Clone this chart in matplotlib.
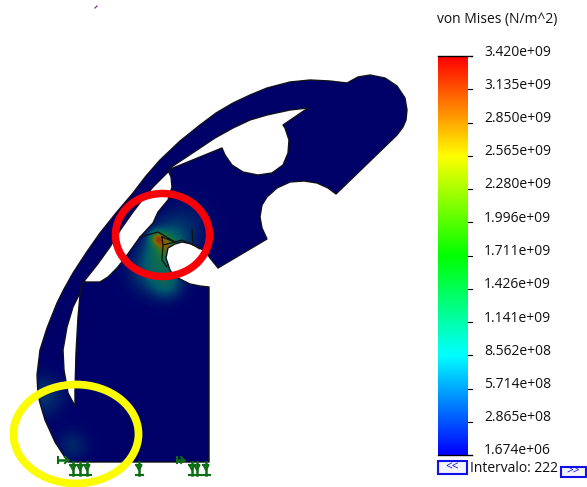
import numpy as np
import matplotlib
matplotlib.use('Agg')
import matplotlib.pyplot as plt
from matplotlib.colors import LinearSegmentedColormap
from matplotlib.patches import Ellipse, Polygon, Rectangle

plt.rcParams['font.family'] = ['Open Sans', 'DejaVu Sans']

# outline of the part, image pixels
part_x = [68, 209, 209, 200, 190, 180, 174, 170, 166, 168, 175, 182, 192, 200, 206, 210, 218, 267, 262, 260, 262,
          267, 277, 290, 304, 317, 328, 336, 397, 403, 406, 407, 405, 397, 385, 370, 358, 347, 330, 310, 290, 267,
          250, 233, 216, 200, 180, 160, 146, 133, 116, 100, 86, 73, 64, 57, 47, 40, 37, 38, 40, 45, 55]
part_y = [462, 462, 287, 286, 284, 279, 276, 270, 258, 248, 244, 242, 244, 248, 252, 258, 268, 239, 228, 217, 205,
          197, 188, 182, 181, 183, 188, 194, 135, 127, 120, 110, 98, 86, 78, 75, 77, 83, 81, 80, 82, 88,
          95, 103, 113, 125, 141, 160, 176, 193, 213, 233, 253, 273, 289, 303, 328, 350, 375, 395, 403, 420, 442]
# slot between the band and the body
slot_x = [308, 290, 267, 250, 233, 215, 200, 185, 170, 168, 153, 143, 133, 121, 110, 97, 85, 79, 73, 67, 63, 64, 68, 75,
          75, 76, 78, 80, 83, 100, 108, 117, 125, 140, 153, 158, 168, 172, 171, 168, 222, 225, 232, 243, 258,
          272, 283, 288, 289, 285, 283]
slot_y = [108, 110, 115, 120, 128, 138, 148, 158, 168, 172, 187, 199, 212, 229, 247, 265, 280, 295, 307, 327, 350, 370, 393, 406,
          390, 353, 317, 295, 282, 282, 277, 268, 258, 237, 223, 212, 200, 187, 177, 170, 148, 155, 165, 172, 175,
          173, 165, 153, 140, 128, 125]

# stress hot spots: x, y, strength, radius
spot_x = [157, 166, 168, 166, 148, 186, 43, 72, 160]
spot_y = [238, 244, 244, 282, 272, 222, 395, 445, 255]
spot_v = [0.52, 0.28, 0.26, 0.26, 0.16, 0.08, 0.14, 0.10, 0.20]
spot_r = [5, 7, 15, 11, 14, 16, 14, 11, 12]

# crack lines on the mesh
crack_lines = [
    ([140, 158, 175, 182, 193, 200], [237, 232, 242, 240, 245, 249]),
    ([162, 175, 163, 162], [237, 242, 245, 237]),
    ([163, 162, 167], [245, 260, 267]),
    ([192, 193], [229, 245]),
]

# colour bar
bar_ticks = ['3.420e+09', '3.135e+09', '2.850e+09', '2.565e+09', '2.280e+09', '1.996e+09', '1.711e+09',
             '1.426e+09', '1.141e+09', '8.562e+08', '5.714e+08', '2.865e+08', '1.674e+06']
bar_title = 'von Mises (N/m^2)'
interval_text = 'Intervalo: 222'

# supports under the part
support_x = [73, 80, 87, 139, 192, 197, 206]

fig = plt.figure(figsize=(5.87, 4.87), dpi=100)
ax = fig.add_axes([0, 0, 1, 1])
ax.set_xlim(0, 587)
ax.set_ylim(487, 0)
ax.axis('off')

# stress field clipped to the part
xx, yy = np.meshgrid(np.arange(0, 420), np.arange(60, 470))
field = np.zeros_like(xx, dtype=float)
for sx, sy, sv, sr in zip(spot_x, spot_y, spot_v, spot_r):
    field += sv * np.exp(-((xx - sx) ** 2 + (yy - sy) ** 2) / (2 * sr ** 2))
stress = LinearSegmentedColormap.from_list('stress', [
    (0.0, '#000069'), (0.25, '#005a6e'), (0.5, '#14783c'), (0.75, '#8c6400'), (1.0, '#9a1e0a')])
im = ax.imshow(field, cmap=stress, vmin=0, vmax=1, extent=(0, 420, 470, 60), aspect='auto',
               interpolation='bilinear', zorder=1)
part = Polygon(np.column_stack([part_x, part_y]), closed=True, fc='none', ec='#101020', lw=1, zorder=2,
               joinstyle='round')
ax.add_patch(part)
im.set_clip_path(part)
ax.add_patch(Polygon(np.column_stack([slot_x, slot_y]), closed=True, fc='white', ec='#101020', lw=1, zorder=2,
                     joinstyle='round'))
ax.set_xlim(0, 587)
ax.set_ylim(487, 0)

for cx, cy in crack_lines:
    ax.plot(cx, cy, color='#101010', lw=0.9, zorder=3)

# support symbols
green = '#0c6e14'
for x in support_x:
    ax.plot([x, x], [462, 475], color=green, lw=1.8, zorder=3)
    ax.plot([x - 3.5, x + 3.5], [475, 475], color=green, lw=1.5, zorder=3)
    ax.plot([x - 2.5, x + 2.5, x, x - 2.5], [465, 465, 470, 465], color=green, lw=1.5, zorder=3)
for x0, x1 in [(58, 68), (177, 184)]:
    ax.plot([x0, x1], [460, 460], color=green, lw=1.8, zorder=3)
    ax.plot([x0, x0], [457, 463], color=green, lw=1.5, zorder=3)
    ax.plot([x1 - 3, x1, x1 - 3], [457, 460, 463], color=green, lw=1.5, zorder=3)

ax.add_patch(Ellipse((162.5, 235), 94, 83, fc='none', ec='#f80008', lw=5.4, zorder=4))
ax.add_patch(Ellipse((76, 434), 125, 99, fc='none', ec='#fcfc00', lw=5.6, zorder=4))
ax.plot([95, 97], [8, 6], color='#8a2a9a', lw=0.9)

# colour bar
rainbow = LinearSegmentedColormap.from_list('rainbow5', ['#0000ff', '#00ffff', '#00ff00', '#ffff00', '#ff0000'])
ax.imshow(np.linspace(1, 0, 256)[:, None], cmap=rainbow, extent=(438, 468, 455, 56), aspect='auto', zorder=1)
ax.set_xlim(0, 587)
ax.set_ylim(487, 0)
ax.plot([438, 472], [56, 56], color='black', lw=1)
ax.plot([438, 472], [455, 455], color='black', lw=1)
for i, label in enumerate(bar_ticks):
    tick_y = 56 + i * (455 - 56) / (len(bar_ticks) - 1)
    if 0 < i < len(bar_ticks) - 1:
        ax.plot([468, 472], [tick_y, tick_y], color='black', lw=0.8)
    ax.text(484, tick_y - 4, label, fontsize=10, va='center', ha='left', color='#101010')
ax.text(437, 19, bar_title, fontsize=10, va='center', ha='left', color='#101010')
ax.text(470, 469, interval_text, fontsize=10, va='center', ha='left', color='#101010')

# interval buttons
for x, y, w, h, t in [(438, 461, 29, 13, '<<'), (561, 467, 25, 10, '>>')]:
    ax.add_patch(Rectangle((x, y), w, h, fc='#f4f4ff', ec='#1010e8', lw=1.5, zorder=3))
    ax.text(x + w / 2, y + h / 2 - 0.5, t, fontsize=8.5, color='#1010e8', va='center', ha='center', zorder=4)

fig.savefig('out.png', dpi=100)
